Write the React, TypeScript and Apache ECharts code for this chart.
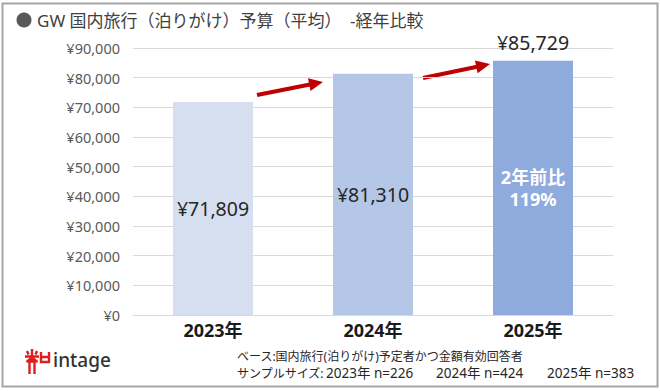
import React, { useEffect, useRef } from "react";
import * as echarts from "echarts";

const categories = ["2023年", "2024年", "2025年"];
const values = [71809, 81310, 85729];
const barColors = ["#D6DFF0", "#B4C7E7", "#8FAADC"];
const yMin = 0;
const yMax = 90000;
const yInterval = 10000;
const titleText = "GW 国内旅行（泊りがけ）予算（平均）　-経年比較";
const ratioText = ["2年前比", "119%"];
const baseNote = "ベース:国内旅行(泊りがけ)予定者かつ金額有効回答者";
const sampleLabel = "サンプルサイズ:";
const sampleYears = ["2023年", "2024年", "2025年"];
const sampleSizes = [226, 424, 383];
const brandName = "intage";

const FONT = '"Noto Sans", "Noto Sans CJK JP", sans-serif';

const yen = (v: number) => "¥" + Math.round(v).toLocaleString("en-US");

let registered = false;
function registerLogo() {
  if (registered) return;
  registered = true;
  const d =
    "M7 0 L7 5 M2 2 L3.5 5.5 M12 2 L10.5 5.5 M0 7.5 L14 7.5 M7 5 L7 12 M7 8.5 L1.5 13 M7 8.5 L12.5 13 M4.5 12.5 L9.5 12.5 M4.5 12.5 L4.5 25 M9.5 12.5 L9.5 25 M16 3 L16 13 L24 13 L24 3 M16 8 L24 8";
  echarts.graphic.registerShape("logo", echarts.graphic.extendPath(d, {}) as any);
}

function arrow(sx: number, sy: number, tx: number, ty: number) {
  const dx = tx - sx;
  const dy = ty - sy;
  const len = Math.sqrt(dx * dx + dy * dy);
  const ux = dx / len;
  const uy = dy / len;
  const px = -uy;
  const py = ux;
  const headLen = 14;
  const headHalf = 6.5;
  const bx = tx - ux * headLen;
  const by = ty - uy * headLen;
  return {
    type: "group",
    children: [
      {
        type: "line",
        shape: { x1: sx, y1: sy, x2: bx + ux * 2, y2: by + uy * 2 },
        style: { stroke: "#C00000", lineWidth: 4 },
      },
      {
        type: "polygon",
        shape: {
          points: [
            [tx, ty],
            [bx + px * headHalf, by + py * headHalf],
            [bx - px * headHalf, by - py * headHalf],
          ],
        },
        style: { fill: "#C00000" },
      },
    ],
  };
}

function noteText(text: string, x: number, y: number, size = 12.5) {
  return {
    type: "text",
    x,
    y,
    style: {
      text,
      fontSize: size,
      fill: "#262626",
      fontFamily: FONT,
      verticalAlign: "middle",
    },
  };
}

export default function App() {
  const ref = useRef<HTMLDivElement>(null);
  useEffect(() => {
    document.body.style.margin = "0";
    registerLogo();
    const chart = echarts.init(ref.current!, null, { renderer: "svg" });
    const mainData = values.map((v, i) => ({
      value: v,
      itemStyle: { color: barColors[i] },
      label:
        i === values.length - 1
          ? { show: true, position: "top", distance: 8 }
          : { show: true, position: "inside" },
    }));
    const overlayData = values.map((v, i) =>
      i === values.length - 1
        ? {
            value: v,
            label: {
              show: true,
              position: "inside",
              formatter: ratioText.join("\n"),
              color: "#FFFFFF",
              fontWeight: "bold",
              fontSize: 18,
              lineHeight: 22,
              fontFamily: FONT,
            },
          }
        : { value: null }
    );
    const sampleX = [326, 436, 547];
    chart.setOption({
      animation: false,
      backgroundColor: "#FFFFFF",
      grid: { left: 133, right: 47, top: 48, bottom: 76, containLabel: false },
      xAxis: {
        type: "category",
        data: categories,
        axisLine: { lineStyle: { color: "#D9D9D9" } },
        axisTick: { show: false },
        axisLabel: {
          fontSize: 18,
          fontWeight: "bold",
          color: "#1A1A1A",
          fontFamily: FONT,
          margin: 6,
        },
      },
      yAxis: {
        type: "value",
        min: yMin,
        max: yMax,
        interval: yInterval,
        axisLine: { show: false },
        axisTick: { show: false },
        splitLine: { lineStyle: { color: "#D9D9D9" } },
        axisLabel: {
          formatter: (v: number) => yen(v),
          fontSize: 14.5,
          color: "#595959",
          fontFamily: FONT,
          margin: 13,
        },
      },
      series: [
        {
          type: "bar",
          data: mainData,
          barWidth: "50%",
          label: {
            formatter: (p: any) => yen(p.value),
            fontSize: 19.5,
            color: "#262626",
            fontFamily: FONT,
          },
        },
        {
          type: "bar",
          data: overlayData,
          barWidth: "50%",
          barGap: "-100%",
          itemStyle: { color: "rgba(0,0,0,0)" },
          silent: true,
        },
      ],
      graphic: [
        {
          type: "rect",
          shape: { x: 2.5, y: 3.5, width: 655, height: 383 },
          style: { fill: "none", stroke: "#A6A6A6", lineWidth: 2 },
          silent: true,
        },
        {
          type: "circle",
          shape: { cx: 24, cy: 20, r: 7.5 },
          style: { fill: "#595959" },
        },
        {
          type: "text",
          x: 37,
          y: 20,
          style: {
            text: titleText,
            fontSize: 17,
            fill: "#404040",
            fontFamily: FONT,
            verticalAlign: "middle",
          },
        },
        arrow(257, 95, 323, 82),
        arrow(423, 78, 490, 64),
        {
          type: "logo",
          x: 25,
          y: 349,
          style: { fill: "none", stroke: "#E01E1E", lineWidth: 2.4 },
        },
        {
          type: "text",
          x: 53,
          y: 360,
          style: {
            text: brandName,
            fontSize: 19,
            fontWeight: 500,
            fill: "#333333",
            fontFamily: FONT,
            verticalAlign: "middle",
          },
        },
        noteText(baseNote, 237, 356, 12),
        noteText(sampleLabel, 237, 373, 12),
        ...sampleYears.map((y, i) =>
          noteText(y + " n=" + sampleSizes[i], sampleX[i], 373, 13.5)
        ),
      ],
    });
    return () => chart.dispose();
  }, []);
  return (
    <div
      ref={ref}
      style={{ position: "fixed", left: 0, top: 0, width: 660, height: 391, background: "#fff" }}
    />
  );
}
